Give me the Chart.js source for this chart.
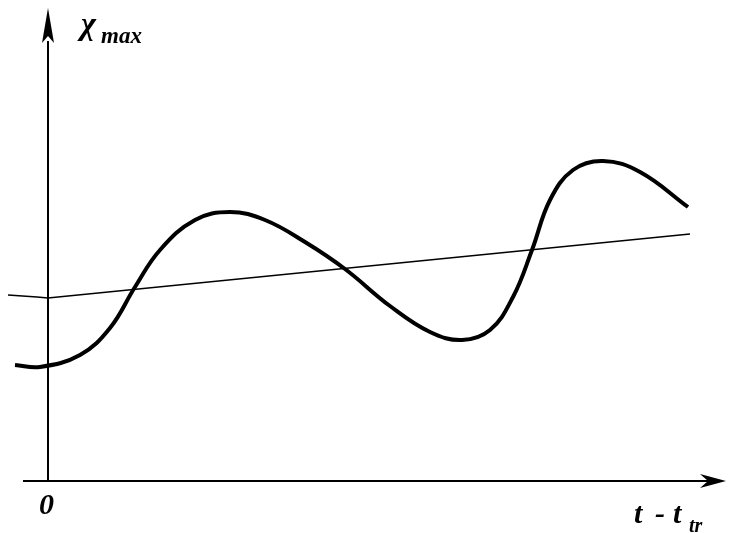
<!DOCTYPE html>
<html>
<head>
<meta charset="utf-8">
<script src="https://cdn.jsdelivr.net/npm/chart.js@4/dist/chart.umd.min.js"></script>
<style>
	html, body { margin: 0; padding: 0; background: #fff; }
	#wrap { width: 732px; height: 533px; }
</style>
</head>
<body>
<div id="wrap"><canvas id="xmaxChart" width="732" height="533"></canvas></div>
<script>
// t - t_tr (arbitrary units) and x_max for the oscillating curve
let curveT = [-33, -8, 32, 62, 87, 112, 147, 182, 217, 257, 297, 342, 382, 414, 442, 465, 484, 502, 525, 555, 592, 640];
let curveX = [116, 114, 126, 153, 194, 231, 261, 269, 261, 239, 212, 175, 149, 141, 151, 184, 231, 281, 311, 320, 309, 274];
// slowly rising trend line
let trendT = [-40, -11, 0, 642];
let trendX = [186, 184, 183, 247];

function toPoints(xs, ys) {
	return xs.map((x, i) => ({ x: x, y: ys[i] }));
}

// axes with arrow heads and labels, drawn through the scales
const axesPlugin = {
	id: 'axesPlugin',
	beforeDatasetsDraw(chart) {
		const c = chart.ctx;
		const sx = chart.scales.x, sy = chart.scales.y;
		const x0 = sx.getPixelForValue(0), y0 = sy.getPixelForValue(0);
		c.save();
		c.strokeStyle = '#000';
		c.fillStyle = '#000';
		c.lineWidth = 2;
		c.beginPath();
		c.moveTo(x0 - 25, y0);
		c.lineTo(x0 + 660, y0);
		c.moveTo(x0, y0);
		c.lineTo(x0, y0 - 440);
		c.stroke();
		// y arrow
		c.beginPath();
		c.moveTo(x0, y0 - 473);
		c.lineTo(x0 + 6, y0 - 438);
		c.lineTo(x0, y0 - 445);
		c.lineTo(x0 - 6, y0 - 438);
		c.closePath();
		c.fill();
		// x arrow
		c.beginPath();
		c.moveTo(x0 + 678, y0);
		c.lineTo(x0 + 652, y0 - 7);
		c.lineTo(x0 + 660, y0);
		c.lineTo(x0 + 652, y0 + 7);
		c.closePath();
		c.fill();
		// labels
		c.textBaseline = 'alphabetic';
		c.font = 'bold italic 32px "Liberation Serif"';
		c.fillText('χ', x0 + 33, y0 - 447);
		c.font = 'bold italic 23px "Liberation Serif"';
		c.fillText('max', x0 + 53, y0 - 438);
		c.font = 'bold italic 30px "Liberation Serif"';
		c.fillText('0', x0 - 9, y0 + 33);
		c.fillText('t', x0 + 586, y0 + 42);
		c.fillText('-', x0 + 607, y0 + 42);
		c.fillText('t', x0 + 625, y0 + 42);
		c.font = 'bold italic 20px "Liberation Serif"';
		c.fillText('tr', x0 + 641, y0 + 51);
		c.restore();
	}
};

var ctx = document.getElementById('xmaxChart').getContext('2d');
var xmaxChart = new Chart(ctx, {
	type: 'line',
	data: {
		datasets: [{
			label: 'x_max',
			data: toPoints(curveT, curveX),
			borderColor: '#000',
			borderWidth: 4,
			pointRadius: 0,
			tension: 0.4
		}, {
			label: 'trend',
			data: toPoints(trendT, trendX),
			borderColor: '#000',
			borderWidth: 1.5,
			pointRadius: 0,
			tension: 0
		}]
	},
	options: {
		responsive: false,
		animation: false,
		layout: { padding: 0 },
		scales: {
			x: { type: 'linear', min: -48, max: 684, display: false },
			y: { type: 'linear', min: -52, max: 481, display: false }
		},
		plugins: {
			legend: { display: false },
			tooltip: { enabled: false }
		}
	},
	plugins: [axesPlugin]
});
</script>
</body>
</html>
